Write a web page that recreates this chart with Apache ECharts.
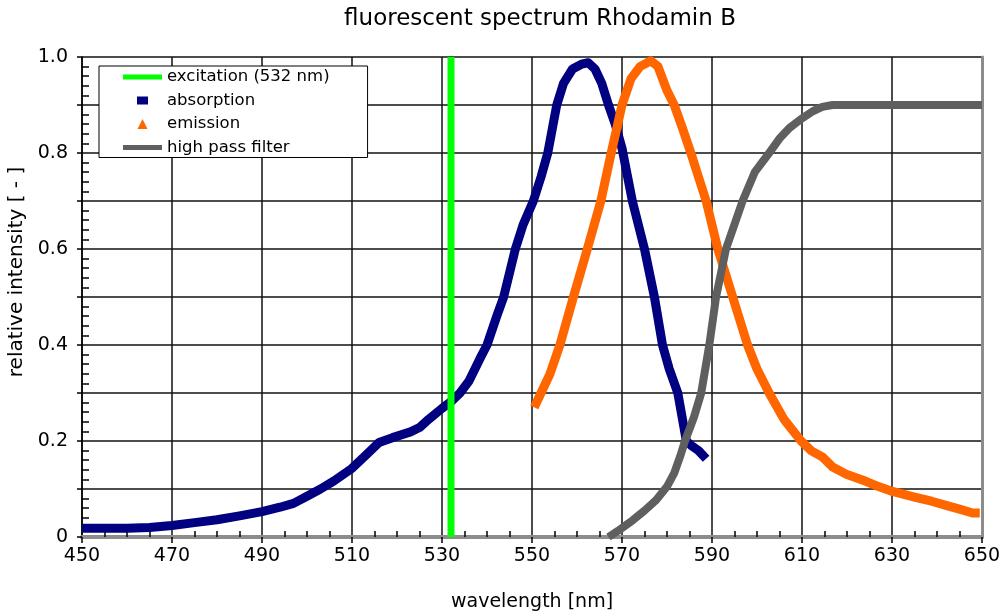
<!DOCTYPE html>
<html>
<head>
<meta charset="utf-8">
<script src="https://cdn.jsdelivr.net/npm/echarts@6/dist/echarts.min.js"></script>
<style>
  html, body { margin: 0; padding: 0; background: #fff; }
  #chart { width: 1002px; height: 613px; }
</style>
</head>
<body>
<div id="chart"></div>
<script>
const FONT = "'DejaVu Sans', Verdana, sans-serif";

// wavelength [nm] / relative intensity
const absorptionNm = [450, 455, 460, 465, 470, 475, 480, 485, 490, 494, 497, 500, 503, 506, 510, 513, 516, 519, 523, 525, 527, 530, 532, 534, 536, 538.4, 540, 542.2, 543.7, 546.3, 548, 550.3, 552, 553.5, 554.5, 555.5, 557, 559, 561, 562.5, 564, 565.5, 567, 568.5, 570, 572.3, 575, 577.2, 579, 580.5, 582.4, 584.3, 585.5, 587, 588.7];
const absorptionVal = [0.018, 0.018, 0.018, 0.02, 0.024, 0.03, 0.036, 0.044, 0.053, 0.062, 0.07, 0.085, 0.1, 0.117, 0.143, 0.17, 0.197, 0.207, 0.219, 0.228, 0.245, 0.268, 0.282, 0.3, 0.325, 0.371, 0.4, 0.461, 0.5, 0.6, 0.65, 0.7, 0.75, 0.8, 0.85, 0.9, 0.945, 0.975, 0.985, 0.988, 0.975, 0.945, 0.9, 0.86, 0.81, 0.7, 0.6, 0.5, 0.4, 0.35, 0.3, 0.2, 0.19, 0.18, 0.163];

const emissionNm = [550.5, 552, 554, 556.2, 559.2, 562.3, 565.3, 567.6, 570, 572, 574, 576.4, 578, 580, 581.6, 583.5, 585.3, 587, 588.7, 591.3, 594.6, 597.9, 600, 602.7, 606, 609.8, 612, 614.5, 616.8, 620, 624.2, 627, 630.1, 635, 639, 642, 645, 647.9, 649.5];
const emissionVal = [0.27, 0.3, 0.34, 0.4, 0.5, 0.6, 0.7, 0.8, 0.9, 0.955, 0.98, 0.992, 0.98, 0.93, 0.9, 0.85, 0.8, 0.75, 0.7, 0.6, 0.5, 0.4, 0.35, 0.3, 0.245, 0.2, 0.18, 0.167, 0.146, 0.13, 0.116, 0.105, 0.095, 0.083, 0.074, 0.066, 0.058, 0.05, 0.05];

const filterNm = [567, 569, 572.4, 575, 577.6, 580, 581.6, 583, 584, 586, 587.6, 589.4, 590.9, 593.1, 596.8, 599.5, 602.7, 605, 607.2, 610, 612.4, 614.5, 616.8, 650];
const filterVal = [0, 0.012, 0.035, 0.055, 0.077, 0.105, 0.133, 0.17, 0.2, 0.25, 0.3, 0.4, 0.5, 0.6, 0.7, 0.76, 0.8, 0.83, 0.852, 0.872, 0.887, 0.896, 0.9, 0.9];

const excitationNm = [532, 532];
const excitationVal = [0, 1];

const seriesNames = ["excitation (532 nm)", "absorption", "emission", "high pass filter"];
const seriesColors = ["#00ff00", "#000080", "#ff6600", "#5f5f5f"];

const zip = (xs, ys) => xs.map((x, i) => [x, ys[i]]);

// legend icons: 39x12 box kept by the two corner moves
const BOX = "M0,0L0,0M39,12L39,12";
const icons = [
  "path://" + BOX + "M0,3.5H39V8.5H0Z",
  "path://" + BOX + "M14,2H25V10H14Z",
  "path://" + BOX + "M19.5,1L24.5,11H14.5Z",
  "path://" + BOX + "M0,3.5H39V8.5H0Z"
];

const chart = echarts.init(document.getElementById("chart"), null, { renderer: "canvas" });

const baseX = { type: "value", min: 450, max: 650, interval: 20, position: "bottom" };
const baseY = { type: "value", min: 0, max: 1, interval: 0.1, position: "left" };

const line = (name, data, color, width, z) => ({
  name, type: "line", data, xAxisIndex: 0, yAxisIndex: 0,
  showSymbol: false, symbol: "none", z,
  lineStyle: { color, width, cap: "butt", join: "round" },
  itemStyle: { color }
});

chart.setOption({
  animation: false,
  textStyle: { fontFamily: FONT },
  title: {
    text: "fluorescent spectrum Rhodamin B",
    left: 535, top: 3, textAlign: "center",
    textStyle: { fontFamily: FONT, fontSize: 23, fontWeight: "normal", color: "#000" }
  },
  grid: { left: 82, right: 20, top: 57, bottom: 76, containLabel: false, outerBoundsMode: "none" },
  legend: {
    orient: "vertical", left: 99, top: 66,
    padding: [1, 38, 0, 24],
    itemWidth: 39, itemHeight: 12, itemGap: 3.5,
    backgroundColor: "#fff", borderColor: "#000", borderWidth: 1,
    itemStyle: { borderWidth: 0 },
    textStyle: { fontFamily: FONT, fontSize: 16.5, lineHeight: 20, color: "#000" },
    data: seriesNames.map((name, i) => ({ name, icon: icons[i], itemStyle: { color: seriesColors[i], borderWidth: 0 } }))
  },
  xAxis: [
    {
      ...baseX,
      name: "wavelength [nm]", nameLocation: "middle", nameGap: 56,
      nameTextStyle: { fontFamily: FONT, fontSize: 19, color: "#000" },
      axisLine: { lineStyle: { color: "#8c8c8c", width: 4 } },
      axisTick: { length: 6, lineStyle: { color: "#000", width: 1.5 } },
      axisLabel: { margin: 10, fontSize: 19, color: "#000", fontFamily: FONT },
      splitLine: { lineStyle: { color: "#111", width: 1.5 } }
    },
    {
      ...baseX,
      axisLine: { show: false },
      axisTick: { show: false, inside: true },
      minorTick: { show: true, splitNumber: 4, length: 6, lineStyle: { color: "#000", width: 1.5 } },
      axisLabel: { show: false },
      splitLine: { show: false }
    },
    {
      ...baseX, position: "top",
      axisLine: { lineStyle: { color: "#8c8c8c", width: 3 } },
      axisTick: { show: false }, axisLabel: { show: false }, splitLine: { show: false }
    }
  ],
  yAxis: [
    {
      ...baseY,
      name: "relative intensity [ - ]", nameLocation: "middle", nameGap: 54,
      nameTextStyle: { fontFamily: FONT, fontSize: 20, color: "#000", padding: [0, 0, 0, 50] },
      axisLine: { lineStyle: { color: "#000", width: 1.5 } },
      axisTick: { length: 5, lineStyle: { color: "#000", width: 1.5 } },
      axisLabel: {
        margin: 14, fontSize: 19, color: "#000", fontFamily: FONT,
        formatter: v => (Math.round(v * 10) % 2 ? "" : v === 0 ? "0" : v.toFixed(1))
      },
      splitLine: { lineStyle: { color: "#111", width: 1.5 } }
    },
    {
      ...baseY,
      axisLine: { show: false },
      axisTick: { show: false, inside: true },
      minorTick: { show: true, splitNumber: 5, length: 7, lineStyle: { color: "#000", width: 1.5 } },
      axisLabel: { show: false },
      splitLine: { show: false }
    },
    {
      ...baseY, position: "right",
      axisLine: { lineStyle: { color: "#8c8c8c", width: 3 } },
      axisTick: { show: false }, axisLabel: { show: false }, splitLine: { show: false }
    }
  ],
  series: [
    line(seriesNames[0], zip(excitationNm, excitationVal), seriesColors[0], 7, 6),
    line(seriesNames[1], zip(absorptionNm, absorptionVal), seriesColors[1], 9, 3),
    line(seriesNames[2], zip(emissionNm, emissionVal), seriesColors[2], 9, 4),
    line(seriesNames[3], zip(filterNm, filterVal), seriesColors[3], 8, 5)
  ]
});
</script>
</body>
</html>
